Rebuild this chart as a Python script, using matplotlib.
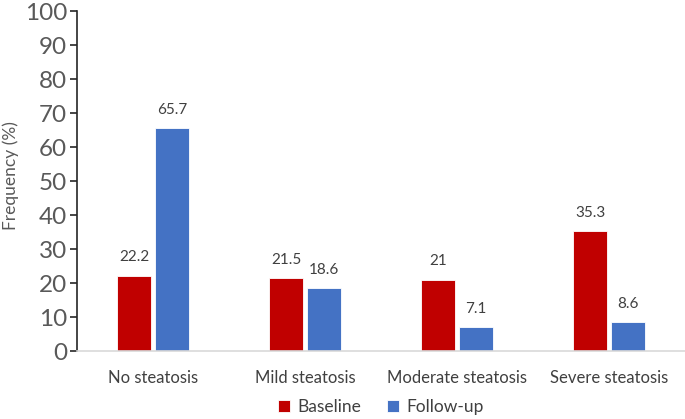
import matplotlib
matplotlib.use("Agg")
import matplotlib.pyplot as plt
import numpy as np

categories = ["No steatosis", "Mild steatosis", "Moderate steatosis", "Severe steatosis"]
baseline = [22.2, 21.5, 21, 35.3]
followup = [65.7, 18.6, 7.1, 8.6]
baseline_labels = ["22.2", "21.5", "21", "35.3"]
followup_labels = ["65.7", "18.6", "7.1", "8.6"]
yticks = list(range(0, 101, 10))

plt.rcParams['font.family'] = ['Lato', 'DejaVu Sans']

fig = plt.figure(figsize=(6.85, 4.19), dpi=100)
ax = fig.add_axes([77/685, 1-351/419, 1-77/685, (351-11)/419])

x = np.arange(len(categories))
w = 0.224
gap = 0.013
red = "#C00000"
blue = "#4472C4"
b1 = ax.bar(x - w/2 - gap, baseline, w, color=red, label="Baseline", edgecolor="white", linewidth=0.6)
b2 = ax.bar(x + w/2 + gap, followup, w, color=blue, label="Follow-up", edgecolor="white", linewidth=0.6)

for rect, lab in zip(b1, baseline_labels):
    ax.annotate(lab, (rect.get_x() + rect.get_width()/2, rect.get_height()),
                xytext=(0, 8), textcoords="offset points", ha="center", va="bottom",
                fontsize=11, color="#404040")
for rect, lab in zip(b2, followup_labels):
    ax.annotate(lab, (rect.get_x() + rect.get_width()/2, rect.get_height()),
                xytext=(0, 8), textcoords="offset points", ha="center", va="bottom",
                fontsize=11, color="#404040")

ax.set_xlim(-0.5, len(categories) - 0.5)
ax.set_ylim(0, 100)
ax.set_yticks(yticks)
ax.set_yticklabels([str(t) for t in yticks], fontsize=17.5, color="#595959")
ax.set_xticks(x)
ax.set_xticklabels(categories, fontsize=12, color="#404040")
ax.tick_params(axis="x", length=0, pad=14)
ax.tick_params(axis="y", length=5, width=1.2, color="#262626", pad=2, direction="out")

for s in ["top", "right"]:
    ax.spines[s].set_visible(False)
ax.spines["left"].set_color("#262626")
ax.spines["left"].set_linewidth(1.2)
ax.spines["bottom"].set_color("#D9D9D9")
ax.spines["bottom"].set_linewidth(1.2)

ax.set_ylabel("Frequency (%)", fontsize=12.5, color="#595959", va="center")
ax.yaxis.set_label_coords(-66/608, (351-176)/340)

leg = ax.legend(loc="center", bbox_to_anchor=(0.5, -(407-351)/340), ncol=2, frameon=False,
                fontsize=12.5, handlelength=0.7, handleheight=0.7, handletextpad=0.4,
                columnspacing=1.5, labelcolor="#404040")

fig.savefig("out.png", dpi=100)
